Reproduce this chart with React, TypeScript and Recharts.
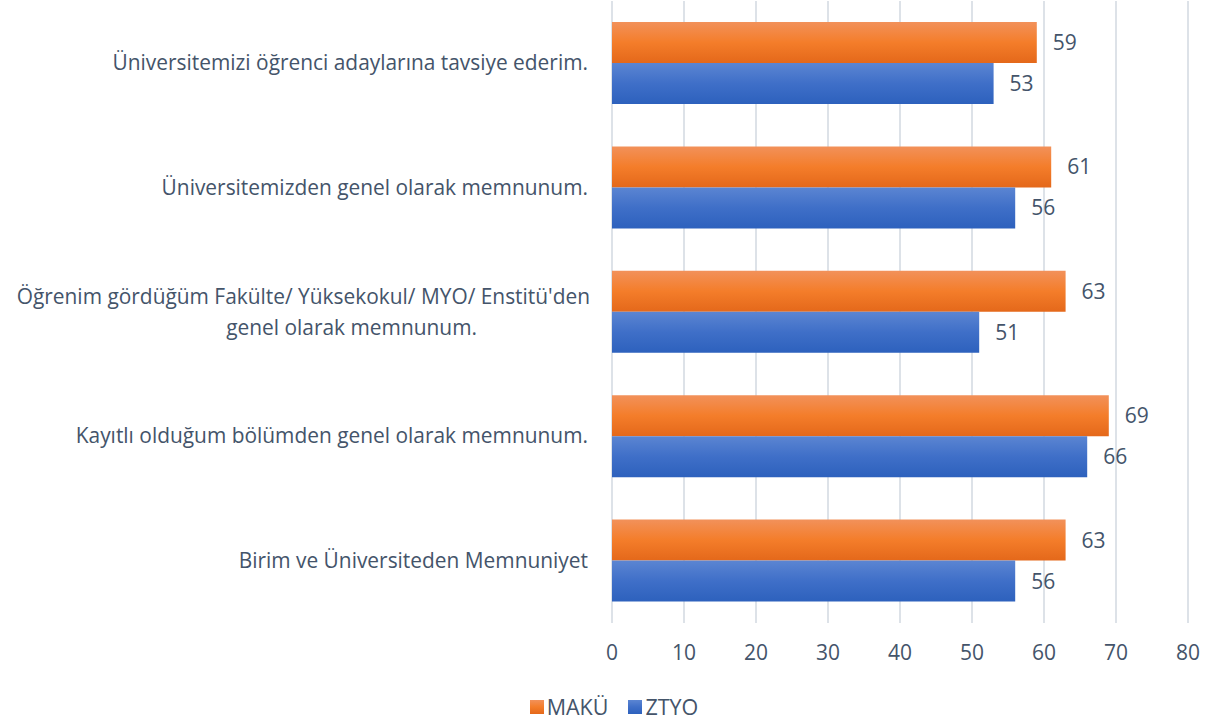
import React from 'react';
import { BarChart, Bar, XAxis, YAxis, CartesianGrid, LabelList, Legend } from 'recharts';

const categories = [
  'Üniversitemizi öğrenci adaylarına tavsiye ederim.',
  'Üniversitemizden genel olarak memnunum.',
  "Öğrenim gördüğüm Fakülte/ Yüksekokul/ MYO/ Enstitü'den\ngenel olarak memnunum.",
  'Kayıtlı olduğum bölümden genel olarak memnunum.',
  'Birim ve Üniversiteden Memnuniyet',
];
const makuValues = [59, 61, 63, 69, 63];
const ztyoValues = [53, 56, 51, 66, 56];
const xTicks = [0, 10, 20, 30, 40, 50, 60, 70, 80];
const seriesNames = ['MAKÜ', 'ZTYO'];

const data = categories.map((name, i) => ({ name, maku: makuValues[i], ztyo: ztyoValues[i] }));

const TEXT = '#44546a';
const FONT = '"Open Sans", "Noto Sans", sans-serif';
const FS = 20.9;
const NS = 21;

const CategoryTick = (props: any) => {
  const { x, y, payload } = props;
  const lines = String(payload.value).split('\n');
  if (lines.length === 1) {
    return (
      <text x={x - 16} y={y} dy={7} textAnchor="end" fill={TEXT} fontSize={FS} fontFamily={FONT}>
        {lines[0]}
      </text>
    );
  }
  return (
    <g>
      <text x={x - 14} y={y - 15} dy={7} textAnchor="end" fill={TEXT} fontSize={FS} fontFamily={FONT}>
        {lines[0]}
      </text>
      <text x={x - 127} y={y + 16} dy={7} textAnchor="end" fill={TEXT} fontSize={FS} fontFamily={FONT}>
        {lines[1]}
      </text>
    </g>
  );
};

const LegendContent = () => (
  <div style={{ height: 50, display: 'flex', justifyContent: 'center', alignItems: 'flex-end', fontFamily: FONT, fontSize: 21.5, color: TEXT, marginLeft: 40 }}>
    <div style={{ display: 'flex', alignItems: 'center', marginRight: 20, marginBottom: 3 }}>
      <div style={{ width: 14, height: 14, background: 'linear-gradient(#f2915a, #f47d2a, #e4681a)', marginRight: 3 }} />
      <span>{seriesNames[0]}</span>
    </div>
    <div style={{ display: 'flex', alignItems: 'center', marginBottom: 3 }}>
      <div style={{ width: 14, height: 14, background: 'linear-gradient(#5b85d2, #3f6fc8, #2d61bd)', marginRight: 3 }} />
      <span>{seriesNames[1]}</span>
    </div>
  </div>
);

export default function App() {
  return (
    <div style={{ position: 'absolute', left: 0, top: 0, width: 1215, height: 724, background: '#fff' }}>
      <BarChart
        width={1215}
        height={724}
        data={data}
        layout="vertical"
        margin={{ top: 1, right: 27, bottom: 0, left: 0 }}
        barCategoryGap={21}
        barGap={0}
      >
        <defs>
          <linearGradient id="gOrange" x1="0" y1="0" x2="0" y2="1">
            <stop offset="0%" stopColor="#f2915a" />
            <stop offset="50%" stopColor="#f47d2a" />
            <stop offset="100%" stopColor="#e4681a" />
          </linearGradient>
          <linearGradient id="gBlue" x1="0" y1="0" x2="0" y2="1">
            <stop offset="0%" stopColor="#5b85d2" />
            <stop offset="50%" stopColor="#3f6fc8" />
            <stop offset="100%" stopColor="#2d61bd" />
          </linearGradient>
        </defs>
        <CartesianGrid horizontal={false} vertical={true} stroke="#dde2e8" strokeWidth={2} />
        <XAxis
          type="number"
          domain={[0, 80]}
          ticks={xTicks}
          axisLine={false}
          tickLine={false}
          height={51}
          tick={{ fill: TEXT, fontSize: NS, fontFamily: FONT, dy: 14 }}
          interval={0}
        />
        <YAxis
          type="category"
          dataKey="name"
          width={612}
          axisLine={false}
          tickLine={false}
          tick={<CategoryTick />}
          interval={0}
        />
        <Legend verticalAlign="bottom" content={<LegendContent />} />
        <Bar dataKey="maku" name={seriesNames[0]} fill="url(#gOrange)" isAnimationActive={false}>
          <LabelList dataKey="maku" position="right" offset={16} fill={TEXT} fontSize={NS} fontFamily={FONT} />
        </Bar>
        <Bar dataKey="ztyo" name={seriesNames[1]} fill="url(#gBlue)" isAnimationActive={false}>
          <LabelList dataKey="ztyo" position="right" offset={16} fill={TEXT} fontSize={NS} fontFamily={FONT} />
        </Bar>
      </BarChart>
    </div>
  );
}
